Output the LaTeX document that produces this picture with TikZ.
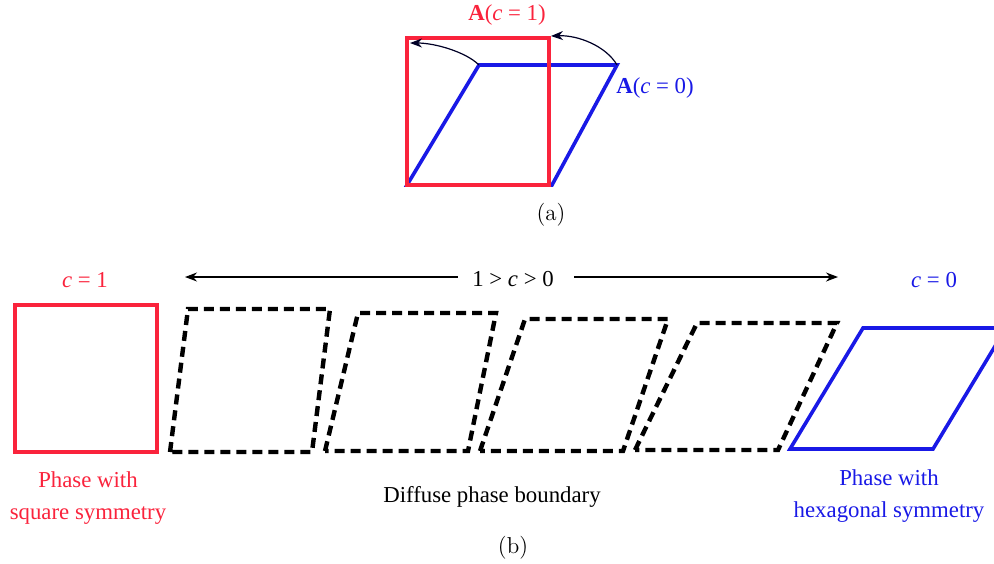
\documentclass[tikz,border=0pt]{standalone}
\usepackage{fontspec}
\newfontfamily\timesfont{Liberation Serif}
\definecolor{sqred}{RGB}{250, 35, 60}
\definecolor{hexblue}{RGB}{25, 25, 230}
\usetikzlibrary{arrows.meta}

\tikzset{
  lbl/.style={font=\timesfont\fontsize{11.4}{16}\selectfont, inner sep=0pt, align=center},
  subcap/.style={font=\fontsize{11.5}{13}\selectfont, inner sep=0pt},
  sqline/.style={sqred, line width=2pt},
  hexline/.style={hexblue, line width=1.8pt},
  midline/.style={black, line width=2.2pt, dash pattern=on 5pt off 3pt},
  rot/.style={-{Stealth[length=6pt,width=4.5pt]}, line width=0.6pt, black!85!blue}
}
\newcommand{\cv}{{\itshape c}}

\begin{document}
\begin{tikzpicture}[x=0.5pt, y=-0.5pt, line join=miter]
    \useasboundingbox (0,0) rectangle (994,563);

    % (a) square cell and sheared cell
    \coordinate (Q1) at (407,185);
    \coordinate (Q2) at (549,185);
    \coordinate (Q3) at (549,38);
    \coordinate (Q4) at (407,38);
    \coordinate (H3) at (617,65);
    \coordinate (H4) at (479,65);
    \coordinate (H2) at (552,185);

    \draw[hexline] (Q1) -- (H2) -- (H3) -- (H4) -- cycle;
    \draw[sqline] (Q1) -- (Q2) -- (Q3) -- (Q4) -- cycle;

    \draw[rot] (H4) .. controls (466,52) and (435,43) .. (410,43);
    \draw[rot] (H3) .. controls (606,46) and (578,35) .. (551,36);

    \node[lbl, text=sqred] (Aone) at (507,15) {\textbf{A}(\cv{} = 1)};
    \node[lbl, text=hexblue] (Azero) at (655,88) {\textbf{A}(\cv{} = 0)};
    \node[subcap] (capa) at (551,215) {(a)};

    % (b) range of c
    \node[lbl, text=sqred] (cone) at (85,280) {\cv{} = 1};
    \node[lbl, text=hexblue] (czero) at (934,280) {\cv{} = 0};
    \node[lbl, inner xsep=7pt] (range) at (513,279) {1 > \cv{} > 0};
    \coordinate (leftend) at (185,277);
    \coordinate (rightend) at (838,277);
    \draw[rot, black] (range.west |- leftend) -- (leftend);
    \draw[rot, black] ([xshift=3pt]range.east |- rightend) -- (rightend);

    % square phase
    \draw[sqline] (15,305) rectangle (157,452);

    % diffuse boundary cells
    \draw[midline] (170,452) -- (188,309) -- (330,309) -- (312,452) -- cycle;
    \draw[midline] (325,451) -- (358,313) -- (496,313) -- (468,451) -- cycle;
    \draw[midline] (480,451) -- (525,319) -- (668,319) -- (623,451) -- cycle;
    \draw[midline] (635,450) -- (697,323) -- (837,323) -- (778,450) -- cycle;

    % hexagonal phase
    \draw[hexline] (790,449) -- (863,328) -- (1006,328) -- (933,449) -- cycle;

    \node[lbl, text=sqred] (sqtext) at (88,498) {Phase with\\square symmetry};
    \node[lbl] (difftext) at (492,497) {Diffuse phase boundary};
    \node[lbl, text=hexblue] (hextext) at (889,496) {Phase with\\hexagonal symmetry};
    \node[subcap] (capb) at (513,548) {(b)};
\end{tikzpicture}
\end{document}
